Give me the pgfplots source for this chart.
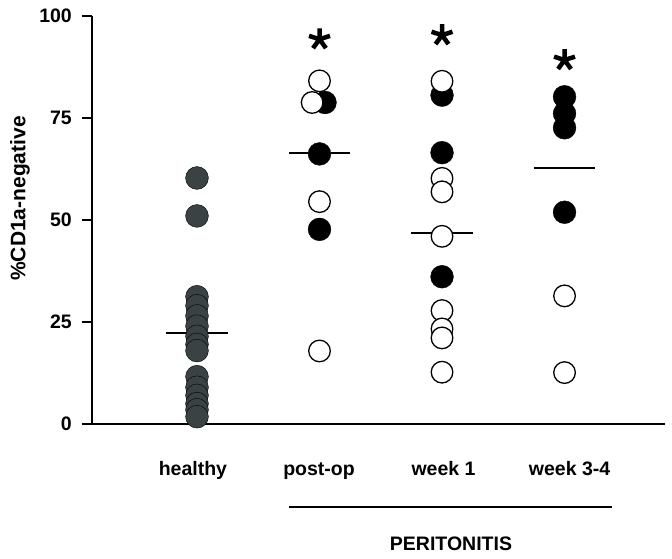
\documentclass[border=0pt]{standalone}
\usepackage{pgfplots}
\pgfplotsset{compat=1.18}
\usepackage{fontspec}
\setmainfont{Liberation Sans}
\definecolor{healthy}{RGB}{58,66,68}
\begin{document}
\begin{tikzpicture}
\useasboundingbox (-92bp,-135bp) rectangle (580bp,424bp);
\begin{axis}[
  scale only axis, width=573bp, height=408bp,
  xmin=0.143, xmax=4.82, ymin=0, ymax=100,
  axis lines=left, axis line style={-, line width=1.6bp},
  clip=false,
  xtick={0.967,1.996,3.012,4.041}, xticklabels={healthy,post-op,week 1,week 3-4},
  x tick style={draw=none},
  xticklabel style={anchor=base, yshift=-41bp},
  ytick={0,25,50,75,100}, yticklabels={0,25,50,75,100},
  tick align=outside, major tick length=10bp,
  y tick style={line width=1.6bp, black},
  yticklabel style={anchor=east, inner sep=0pt, xshift=-10bp},
  tick label style={font=\fontsize{19.5bp}{20bp}\selectfont\bfseries},
  ylabel={\%CD1a-negative},
  every axis y label/.style={at={(axis description cs:-0.1257,0.5527)}, rotate=90, anchor=center, font=\fontsize{21bp}{22bp}\selectfont\bfseries},
]
% healthy
\addplot[only marks, mark=*, mark size=11.4bp, mark options={draw=none, fill=healthy}]
 coordinates {(1,60.3)(1,51)(1,31.2)(1,29)(1,26.5)(1,24)(1,21.5)(1,19.5)(1,18)(1,11.6)(1,9)(1,7)(1,5)(1,3.5)(1,1.8)};
% filled black
\addplot[only marks, mark=*, mark size=11.4bp, mark options={draw=none, fill=black}]
 coordinates {(2.045,78.8)(2,66.2)(2,47.7)(3,80.6)(3,66.5)(3,36.1)(4,80.2)(4,76.1)(4,72.6)(4,51.9)};
% medians
\addplot[black, line width=2bp] coordinates {(0.75,22.3)(1.25,22.3)};
\addplot[black, line width=2bp] coordinates {(1.75,66.5)(2.25,66.5)};
\addplot[black, line width=2bp] coordinates {(2.75,46.7)(3.25,46.7)};
\addplot[black, line width=2bp] coordinates {(3.75,62.8)(4.25,62.8)};
% open
\addplot[only marks, mark=*, mark size=10.8bp, mark options={draw=black, fill=white, line width=1.3bp}]
 coordinates {(2,84.1)(1.94,78.8)(2,54.5)(2,17.9)(3,84.0)(3,60.2)(3,56.9)(3,46.0)(3,27.8)(3,23.3)(3,21.1)(3,12.7)(4,31.4)(4,12.6)};
% significance stars
\addplot[only marks, mark=star, mark size=11bp, mark options={line width=4.5bp, black}]
 coordinates {(2,94.3)(3,95.3)(4,89.2)};
\draw[line width=1.8bp] (axis cs:1.751,-20.3) -- (axis cs:4.388,-20.3);
\node[anchor=base, font=\fontsize{19.5bp}{20bp}\selectfont\bfseries] at (axis cs:3.073,-30.9) {PERITONITIS};
\end{axis}
\end{tikzpicture}
\end{document}
